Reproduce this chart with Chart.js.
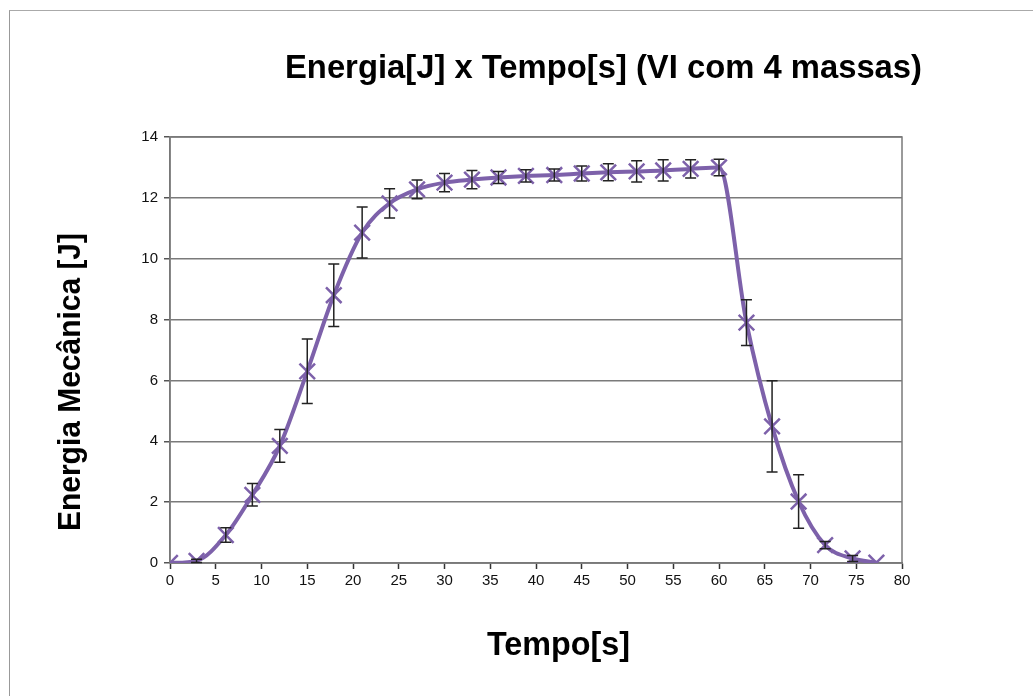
<!DOCTYPE html>
<html>
<head>
<meta charset="utf-8">
<script src="https://cdn.jsdelivr.net/npm/chart.js@4.4.0/dist/chart.umd.min.js"></script>
<style>
  html, body { margin: 0; padding: 0; background: #fff; }
  #wrap { position: relative; width: 1033px; height: 696px; }
  #edge { position: absolute; left: 9px; top: 10px; right: 0; bottom: 0;
          border-left: 1px solid #999; border-top: 1px solid #aaa; }
  canvas { position: absolute; left: 0; top: 0; }
</style>
</head>
<body>
<div id="wrap">
  <div id="edge"></div>
  <canvas id="chartContainer" width="1033" height="696"></canvas>
</div>
<script>
const tempo = [0, 2.9, 6.1, 9, 12, 15, 17.9, 21, 24, 27, 30, 33, 35.9, 38.9, 42, 45, 47.9, 51, 53.9, 56.9, 60, 63, 65.8, 68.7, 71.6, 74.6, 77.2];
const energia = [0, 0.07, 0.92, 2.24, 3.85, 6.3, 8.8, 10.86, 11.82, 12.28, 12.5, 12.6, 12.67, 12.72, 12.75, 12.8, 12.84, 12.87, 12.9, 12.95, 13.0, 7.9, 4.49, 2.02, 0.59, 0.15, 0.01];
const erro = [0, 0.05, 0.24, 0.37, 0.54, 1.06, 1.03, 0.84, 0.48, 0.31, 0.3, 0.3, 0.2, 0.2, 0.2, 0.25, 0.28, 0.35, 0.35, 0.3, 0.27, 0.75, 1.5, 0.88, 0.12, 0.1, 0];

const titulo = 'Energia[J] x Tempo[s] (VI com 4 massas)';
const tituloX = 'Tempo[s]';
const tituloY = 'Energia Mecânica [J]';

const roxo = '#7d61aa';
const fonte = '"Liberation Sans", Arial, sans-serif';

// draws text squashed to a given width
function squashText(ctx, text, x, y, width, size) {
  ctx.save();
  ctx.font = 'bold ' + size + 'px ' + fonte;
  const w = ctx.measureText(text).width;
  ctx.translate(x, y);
  ctx.scale(width / w, 1);
  ctx.fillStyle = '#000';
  ctx.textBaseline = 'alphabetic';
  ctx.fillText(text, 0, 0);
  ctx.restore();
}

const errorBars = {
  id: 'errorBars',
  afterDatasetsDraw(chart) {
    const ctx = chart.ctx;
    const xs = chart.scales.x, ys = chart.scales.y;
    ctx.save();
    ctx.strokeStyle = '#222';
    ctx.lineWidth = 1.5;
    for (let i = 0; i < tempo.length; i++) {
      if (!erro[i]) continue;
      const px = xs.getPixelForValue(tempo[i]);
      const top = ys.getPixelForValue(energia[i] + erro[i]);
      const bot = ys.getPixelForValue(energia[i] - erro[i]);
      ctx.beginPath();
      ctx.moveTo(px, top); ctx.lineTo(px, bot);
      ctx.moveTo(px - 5.5, top); ctx.lineTo(px + 5.5, top);
      ctx.moveTo(px - 5.5, bot); ctx.lineTo(px + 5.5, bot);
      ctx.stroke();
    }
    ctx.restore();
  }
};

const frameAndTitles = {
  id: 'frameAndTitles',
  beforeDatasetsDraw(chart) {
    const { ctx, chartArea: a } = chart;
    ctx.save();
    ctx.strokeStyle = '#7a7a7a';
    ctx.lineWidth = 1.5;
    ctx.strokeRect(a.left, a.top, a.right - a.left, a.bottom - a.top);
    ctx.restore();
  },
  afterDraw(chart) {
    const ctx = chart.ctx;
    squashText(ctx, titulo, 285, 78, 637, 33);
    squashText(ctx, tituloX, 487, 655, 143, 33);
    ctx.save();
    ctx.translate(80, 531);
    ctx.rotate(-Math.PI / 2);
    squashText(ctx, tituloY, 0, 0, 298, 31);
    ctx.restore();
  }
};

const ctx = document.getElementById('chartContainer').getContext('2d');
const chart = new Chart(ctx, {
  type: 'line',
  data: {
    datasets: [{
      label: 'Energia',
      data: tempo.map((t, i) => ({ x: t, y: energia[i] })),
      borderColor: roxo,
      backgroundColor: roxo,
      borderWidth: 4,
      cubicInterpolationMode: 'monotone',
      pointStyle: 'crossRot',
      pointRadius: 11,
      pointBorderWidth: 2.5,
      pointBorderColor: roxo
    }]
  },
  options: {
    responsive: false,
    animation: false,
    layout: { padding: { left: 120, right: 131, top: 137, bottom: 103 } },
    plugins: { legend: { display: false }, tooltip: { enabled: false }, title: { display: false } },
    scales: {
      x: {
        type: 'linear', min: 0, max: 80,
        afterFit: s => { s.height = 30; },
        ticks: { stepSize: 5, color: '#111', padding: 3, maxRotation: 0,
                 font: { family: fonte, size: 15 } },
        grid: { drawOnChartArea: false, drawTicks: true, tickLength: 6, tickColor: '#333', tickWidth: 1.5 },
        border: { color: '#777', width: 1.5 }
      },
      y: {
        min: 0, max: 14,
        afterFit: s => { s.width = 50; },
        ticks: { stepSize: 2, color: '#111', padding: 6,
                 font: { family: fonte, size: 15 } },
        grid: { color: '#7a7a7a', lineWidth: 1.5, tickLength: 6, tickColor: '#555' },
        border: { color: '#777', width: 1.5 }
      }
    }
  },
  plugins: [frameAndTitles, errorBars]
});
</script>
</body>
</html>
